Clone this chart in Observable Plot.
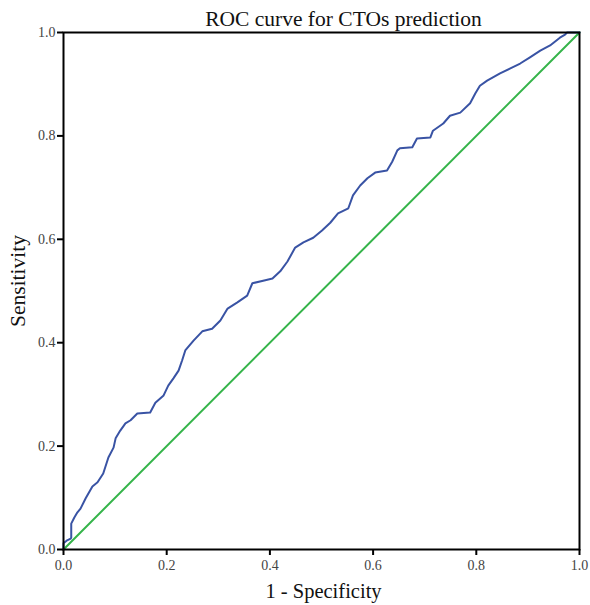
<!DOCTYPE html>
<html>
<head>
<meta charset="utf-8">
<script src="https://cdn.jsdelivr.net/npm/d3@7"></script>
<script src="https://cdn.jsdelivr.net/npm/@observablehq/plot@0.6"></script>
<style>
  html, body { margin: 0; padding: 0; background: #fff; }
  #chart svg { display: block; }
</style>
</head>
<body>
<div id="chart"></div>
<script>
const title = "ROC curve for CTOs prediction";
const xLabel = "1 - Specificity";
const yLabel = "Sensitivity";
const tickValues = [0, 0.2, 0.4, 0.6, 0.8, 1.0];

// ROC curve (1 - specificity, sensitivity)
const fpr = [0, 0, 0.006, 0.014, 0.015, 0.015, 0.021, 0.027, 0.033, 0.043, 0.056, 0.066, 0.077, 0.087, 0.097, 0.101, 0.110, 0.120, 0.130, 0.143, 0.168, 0.178, 0.194, 0.203, 0.213, 0.223, 0.230, 0.236, 0.252, 0.269, 0.288, 0.304, 0.318, 0.337, 0.356, 0.366, 0.387, 0.405, 0.420, 0.434, 0.449, 0.465, 0.484, 0.501, 0.517, 0.532, 0.552, 0.561, 0.575, 0.589, 0.604, 0.627, 0.637, 0.647, 0.652, 0.676, 0.685, 0.711, 0.716, 0.736, 0.749, 0.769, 0.788, 0.798, 0.807, 0.821, 0.846, 0.865, 0.885, 0.904, 0.924, 0.943, 0.962, 0.972, 0.976, 1.0];
const tpr = [0, 0.012, 0.017, 0.021, 0.023, 0.050, 0.062, 0.072, 0.079, 0.099, 0.122, 0.130, 0.147, 0.178, 0.197, 0.215, 0.230, 0.244, 0.250, 0.263, 0.265, 0.284, 0.298, 0.317, 0.331, 0.346, 0.366, 0.385, 0.404, 0.422, 0.427, 0.443, 0.466, 0.478, 0.491, 0.515, 0.520, 0.524, 0.538, 0.557, 0.584, 0.594, 0.603, 0.617, 0.632, 0.650, 0.660, 0.685, 0.704, 0.718, 0.729, 0.733, 0.750, 0.772, 0.776, 0.778, 0.795, 0.797, 0.810, 0.824, 0.839, 0.845, 0.863, 0.882, 0.897, 0.907, 0.921, 0.930, 0.940, 0.952, 0.965, 0.975, 0.990, 0.996, 1.0, 1.0];

// Reference line
const refX = [0, 1];
const refY = [0, 1];

const roc = fpr.map((x, i) => ({x, y: tpr[i]}));
const ref = refX.map((x, i) => ({x, y: refY[i]}));

const serif = "'Liberation Serif', 'DejaVu Serif', serif";

const chart = Plot.plot({
  width: 590,
  height: 605,
  marginLeft: 63,
  marginRight: 11,
  marginTop: 32,
  marginBottom: 56,
  style: {fontFamily: serif, background: "#fff"},
  x: {domain: [0, 1]},
  y: {domain: [0, 1]},
  marks: [
    Plot.line(ref, {x: "x", y: "y", stroke: "#35b44a", strokeWidth: 2}),
    Plot.line(roc, {x: "x", y: "y", stroke: "#3953a4", strokeWidth: 2}),
    Plot.frame({stroke: "#000", strokeWidth: 2}),
    Plot.axisX({ticks: tickValues, tickFormat: d3.format(".1f"), tickSize: 6, tickPadding: 5,
      stroke: "#000", strokeWidth: 2, fill: "#444", fontSize: 14, label: null}),
    Plot.axisY({ticks: tickValues, tickFormat: d3.format(".1f"), tickSize: 6, tickPadding: 2,
      stroke: "#000", strokeWidth: 2, fill: "#444", fontSize: 14, label: null}),
    Plot.text([title], {frameAnchor: "top", lineAnchor: "middle", dx: 22, dy: -13, fontSize: 21.5, fill: "#111", text: d => d}),
    Plot.text([xLabel], {frameAnchor: "bottom", lineAnchor: "middle", dx: 2, dy: 42, fontSize: 20.5, fill: "#111", text: d => d}),
    Plot.text([yLabel], {frameAnchor: "left", textAnchor: "middle", lineAnchor: "middle", dx: -45, dy: -10, rotate: -90, fontSize: 21.5, fill: "#111", text: d => d})
  ]
});
document.getElementById("chart").appendChild(chart);
</script>
</body>
</html>
